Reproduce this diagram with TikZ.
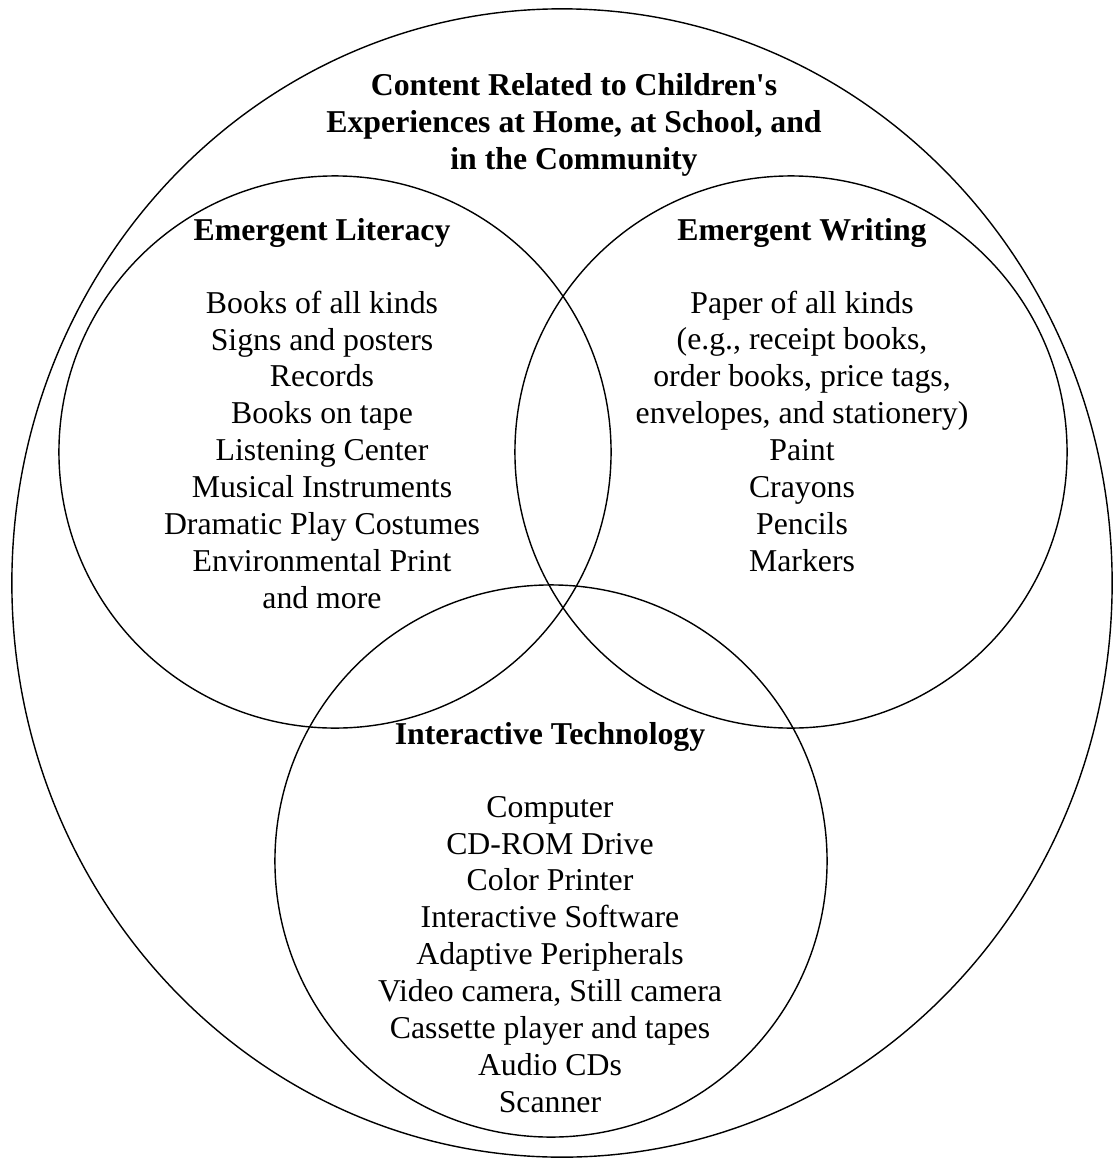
\documentclass[tikz,border=0pt]{standalone}
\usepackage{fontspec}
\setmainfont{Liberation Serif}
\usepackage{tikz}
\usetikzlibrary{shapes.geometric}

\begin{document}
\begin{tikzpicture}[x=0.025cm, y=-0.025cm,
		set_style/.style={circle,draw=black,line width=1pt,inner sep=0pt,minimum size=13.8cm},
		outer_style/.style={ellipse,draw=black,line width=1pt,inner sep=0pt,minimum width=27.5cm,minimum height=28.7cm},
		list_style/.style={align=center,anchor=base,inner sep=0pt,font=\fontsize{22.6}{26.2}\selectfont},
		head_style/.style={list_style,font=\fontsize{22.6}{26.2}\selectfont\bfseries}]

		\useasboundingbox (0,0) rectangle (1112,1158);

		% the sets
		\node[outer_style] (home) at (562,583) {};
		\node[set_style] (lit) at (335,452) {};
		\node[set_style] (wri) at (791,452) {};
		\node[set_style] (tech) at (551,861) {};

		% headings (base = baseline of the last line)
		\node[head_style] (home_head) at (574,169) {Content Related to Children\textquotesingle s\\Experiences at Home, at School, and\\in the Community};
		\node[head_style] (lit_head) at (322,240) {Emergent Literacy};
		\node[head_style] (wri_head) at (802,240) {Emergent Writing};
		\node[head_style] (tech_head) at (550,744) {Interactive Technology};

		% materials
		\node[list_style] (lit_list) at (322,608) {Books of all kinds\\Signs and posters\\Records\\Books on tape\\Listening Center\\Musical Instruments\\Dramatic Play Costumes\\Environmental Print\\and more};
		\node[list_style] (wri_list) at (802,571) {Paper of all kinds\\(e.g., receipt books,\\order books, price tags,\\envelopes, and stationery)\\Paint\\Crayons\\Pencils\\Markers};
		\node[list_style] (tech_list) at (550,1112) {Computer\\CD-ROM Drive\\Color Printer\\Interactive Software\\Adaptive Peripherals\\Video camera, Still camera\\Cassette player and tapes\\Audio CDs\\Scanner};
\end{tikzpicture}
\end{document}
